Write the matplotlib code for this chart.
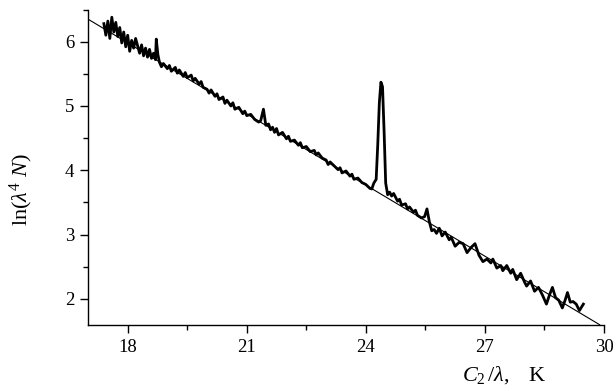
import matplotlib
matplotlib.use("Agg")
import matplotlib.pyplot as plt
from matplotlib.ticker import MultipleLocator

plt.rcParams['font.family'] = ['Liberation Serif', 'DejaVu Serif']
plt.rcParams['mathtext.fontset'] = 'custom'
plt.rcParams['mathtext.rm'] = 'Liberation Serif'
plt.rcParams['mathtext.it'] = 'Liberation Serif:italic'

# measured curve
x_data = [17.40, 17.45, 17.50, 17.55, 17.60, 17.65, 17.70, 17.75, 17.80, 17.85,
          17.90, 17.95, 18.00, 18.05, 18.10, 18.15, 18.20, 18.30, 18.35, 18.40,
          18.45, 18.50, 18.55, 18.60, 18.65, 18.70, 18.72, 18.76, 18.80, 18.85,
          18.90, 19.00, 19.05, 19.10, 19.20, 19.25, 19.30, 19.40, 19.45, 19.50,
          19.60, 19.65, 19.70, 19.80, 19.85, 19.90, 20.00, 20.05, 20.10, 20.20,
          20.25, 20.30, 20.40, 20.45, 20.50, 20.60, 20.65, 20.70, 20.80, 20.90,
          20.95, 21.00, 21.10, 21.20, 21.30, 21.35, 21.42, 21.48, 21.55, 21.60,
          21.65, 21.70, 21.75, 21.80, 21.90, 22.00, 22.05, 22.10, 22.20, 22.30,
          22.35, 22.40, 22.50, 22.60, 22.70, 22.75, 22.80, 22.90, 23.00, 23.05,
          23.10, 23.20, 23.30, 23.35, 23.40, 23.50, 23.60, 23.65, 23.70, 23.80,
          23.90, 24.00, 24.10, 24.15, 24.20, 24.26, 24.30, 24.34, 24.38, 24.42,
          24.46, 24.50, 24.55, 24.60, 24.65, 24.70, 24.80, 24.85, 24.90, 25.00,
          25.05, 25.10, 25.20, 25.25, 25.30, 25.40, 25.48, 25.54, 25.60, 25.66,
          25.72, 25.78, 25.85, 25.92, 26.00, 26.10, 26.15, 26.25, 26.35, 26.45,
          26.55, 26.65, 26.75, 26.85, 26.95, 27.05, 27.15, 27.20, 27.30, 27.40,
          27.45, 27.55, 27.65, 27.70, 27.80, 27.90, 28.00, 28.05, 28.15, 28.25,
          28.35, 28.45, 28.55, 28.62, 28.70, 28.78, 28.86, 28.95, 29.02, 29.08,
          29.15, 29.22, 29.30, 29.38, 29.48]
y_data = [6.28, 6.10, 6.32, 6.05, 6.38, 6.15, 6.30, 6.08, 6.22, 5.98,
          6.15, 5.92, 6.10, 5.85, 6.02, 5.90, 6.05, 5.82, 5.95, 5.78,
          5.90, 5.76, 5.88, 5.74, 5.82, 5.72, 6.04, 5.80, 5.68, 5.61,
          5.66, 5.58, 5.63, 5.54, 5.60, 5.51, 5.56, 5.46, 5.52, 5.44,
          5.48, 5.39, 5.43, 5.34, 5.38, 5.29, 5.26, 5.20, 5.25, 5.15,
          5.19, 5.10, 5.14, 5.04, 5.09, 5.00, 5.05, 4.95, 4.98, 4.88,
          4.92, 4.85, 4.87, 4.79, 4.75, 4.77, 4.95, 4.70, 4.72, 4.63,
          4.67, 4.59, 4.65, 4.55, 4.59, 4.49, 4.53, 4.45, 4.47, 4.39,
          4.43, 4.35, 4.37, 4.29, 4.31, 4.24, 4.27, 4.19, 4.16, 4.09,
          4.13, 4.07, 4.01, 4.04, 3.96, 3.99, 3.91, 3.94, 3.86, 3.88,
          3.81, 3.78, 3.72, 3.71, 3.80, 3.86, 4.40, 5.05, 5.37, 5.30,
          4.60, 3.80, 3.62, 3.66, 3.60, 3.64, 3.52, 3.55, 3.46, 3.48,
          3.40, 3.43, 3.35, 3.38, 3.30, 3.26, 3.28, 3.40, 3.20, 3.06,
          3.08, 3.02, 3.10, 2.98, 3.04, 2.92, 2.96, 2.82, 2.88, 2.86,
          2.72, 2.80, 2.86, 2.68, 2.58, 2.62, 2.56, 2.62, 2.48, 2.52,
          2.44, 2.52, 2.40, 2.46, 2.30, 2.40, 2.26, 2.20, 2.28, 2.12,
          2.18, 2.06, 1.92, 2.05, 2.18, 2.02, 1.98, 1.86, 1.98, 2.10,
          1.95, 1.96, 1.92, 1.82, 1.92]

# linear fit end points
fit_x = [17.0, 29.89]
fit_y = [6.35, 1.60]

x_ticks = [18, 21, 24, 27, 30]
y_ticks = [2, 3, 4, 5, 6]

fig = plt.figure(figsize=(6.16, 3.91), dpi=100)
ax = fig.add_axes([88/616, 1-324.7/391, (604-88)/616, (324.7-9.5)/391])

ax.plot(fit_x, fit_y, color='black', lw=0.8)
ax.plot(x_data, y_data, color='black', lw=2.0, solid_joinstyle='round')

ax.set_xlim(17, 30)
ax.set_ylim(1.6, 6.5)
ax.set_xticks(x_ticks)
ax.set_yticks(y_ticks)
ax.xaxis.set_minor_locator(MultipleLocator(1.5))
ax.yaxis.set_minor_locator(MultipleLocator(0.5))
for s in ['top', 'right']:
    ax.spines[s].set_visible(False)
for s in ['left', 'bottom']:
    ax.spines[s].set_linewidth(1.0)
ax.tick_params(which='major', direction='out', length=6, width=1.0, labelsize=13.5, pad=4)
ax.tick_params(which='minor', direction='out', length=3.5, width=1.0)

fig.text(21.7/616, 1-190/391, r'$\mathrm{ln}(\lambda^4\ N)$', rotation=90,
         ha='center', va='center', fontsize=16)
fig.text(462/616, 1-375/391, r'$C_{\mathrm{2}}\,/\lambda,\ \ \ \mathrm{K}$',
         ha='left', va='center', fontsize=16)

fig.savefig('out.png', dpi=100)
